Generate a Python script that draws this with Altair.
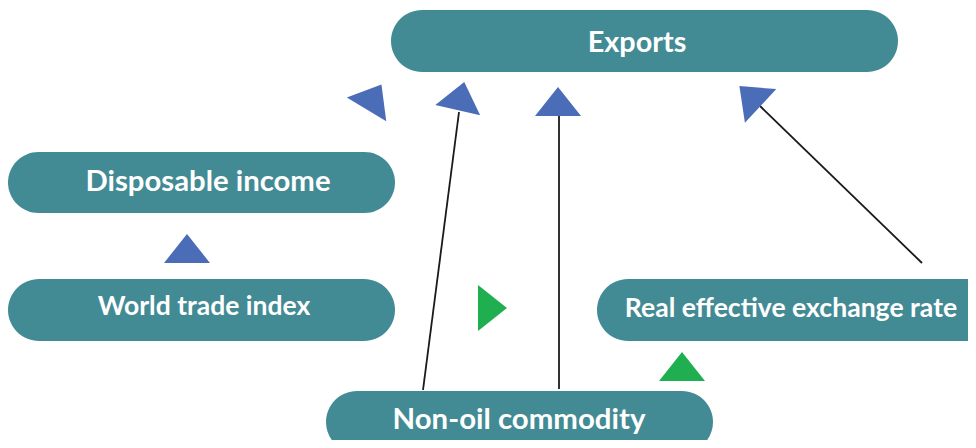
import altair as alt
import pandas as pd

# Boxes (pill shapes) in reference pixel coordinates
box_labels = ["Exports", "Disposable income", "World trade index",
              "Real effective exchange rate", "Non-oil commodity"]
box_x1 = [391, 8, 8, 597, 326]
box_x2 = [898, 395, 395, 1010, 713]
box_y1 = [10, 152, 279, 279, 391]
box_y2 = [72, 213, 341, 341, 453]
text_x = [637, 208, 204, 791, 519]
text_y = [43, 182, 307, 309, 420]
text_size = [28.8, 29.3, 26.5, 26.6, 29.4]

# Connector lines
line_x1 = [423, 559, 922]
line_y1 = [390, 389, 263]
line_x2 = [459, 559, 760]
line_y2 = [112, 116, 106]

# Arrowheads (triangles): centre, rotation, colour group
tri_x = [374, 461, 558, 750, 187, 492.5, 682]
tri_y = [97, 96, 101.5, 96, 248.5, 308, 366.5]
tri_angle = [31, 13, 0, 313, 0, 90, 0]
tri_group = ["blue", "blue", "blue", "blue", "blue", "green", "green"]

W, H = 960, 432
xs = alt.Scale(domain=[8, 8 + W], nice=False, zero=False)
ys = alt.Scale(domain=[8 + H, 8], nice=False, zero=False)

boxes = pd.DataFrame({"label": box_labels, "x1": box_x1, "x2": box_x2,
                      "y1": box_y1, "y2": box_y2, "tx": text_x, "ty": text_y,
                      "fs": text_size})
lines = pd.DataFrame({"x1": line_x1, "y1": line_y1, "x2": line_x2, "y2": line_y2})
tris = pd.DataFrame({"x": tri_x, "y": tri_y, "angle": tri_angle, "g": tri_group})

rects = alt.Chart(boxes).mark_rect(cornerRadius=31, color="#438B94", clip=True).encode(
    x=alt.X("x1:Q", scale=xs, axis=None), x2="x2:Q",
    y=alt.Y("y1:Q", scale=ys, axis=None), y2="y2:Q")

texts = alt.Chart(boxes).mark_text(font="Lato", fontWeight="bold", color="white",
                                   align="center", baseline="middle").encode(
    x=alt.X("tx:Q", scale=xs, axis=None),
    y=alt.Y("ty:Q", scale=ys, axis=None),
    text="label:N",
    size=alt.Size("fs:Q", scale=None, legend=None))

rules = alt.Chart(lines).mark_rule(color="#1a1a1a", strokeWidth=1.8).encode(
    x=alt.X("x1:Q", scale=xs, axis=None), x2="x2:Q",
    y=alt.Y("y1:Q", scale=ys, axis=None), y2="y2:Q")

tri_shape = "M-1,0.63L0,-0.63L1,0.63Z"
triangles = alt.Chart(tris).mark_point(shape=tri_shape, filled=True, size=2116,
                                       opacity=1, strokeWidth=0).encode(
    x=alt.X("x:Q", scale=xs, axis=None),
    y=alt.Y("y:Q", scale=ys, axis=None),
    angle=alt.Angle("angle:Q", scale=None),
    color=alt.Color("g:N", scale=alt.Scale(domain=["blue", "green"],
                                           range=["#4B6CB7", "#1FAF50"]), legend=None))

chart = alt.layer(rules, rects, texts, triangles).properties(
    width=W, height=H, padding=0, autosize=alt.AutoSizeParams(type="none")
).configure_view(stroke=None)

chart.save("out.html", embed_options={"renderer": "svg", "actions": False})
